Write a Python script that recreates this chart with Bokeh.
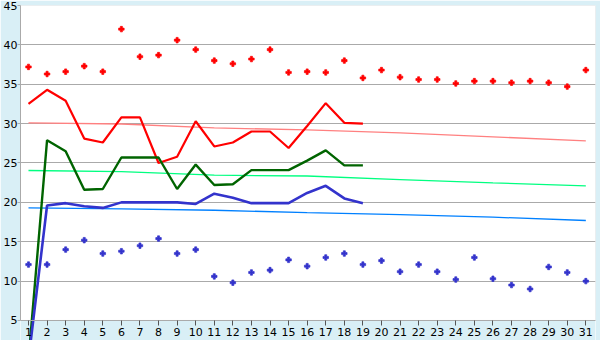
from bokeh.plotting import figure
from bokeh.models import Range1d, FixedTicker, BoxAnnotation
from bokeh.embed import file_html
from bokeh.resources import INLINE

# ---- data ----
days = list(range(1, 32))
line_days = list(range(1, 20))
red_dots = [37.2, 36.3, 36.6, 37.3, 36.6, 42.0, 38.5, 38.7, 40.6, 39.4, 38.0, 37.6, 38.2, 39.4, 36.5, 36.6,
            36.5, 38.0, 35.8, 36.8, 35.9, 35.6, 35.6, 35.1, 35.4, 35.4, 35.2, 35.4, 35.2, 34.7, 36.8]
blue_dots = [12.1, 12.1, 14.0, 15.2, 13.5, 13.8, 14.5, 15.4, 13.5, 14.0, 10.6, 9.8, 11.1, 11.4, 12.7, 11.9,
             13.0, 13.5, 12.1, 12.6, 11.2, 12.1, 11.2, 10.2, 13.0, 10.3, 9.5, 9.0, 11.8, 11.1, 10.0]
red_line = [32.5, 34.3, 32.9, 28.1, 27.6, 30.8, 30.8, 25.0, 25.8, 30.3, 27.1, 27.6, 29.0, 29.0, 26.9, 29.7,
            32.6, 30.1, 30.0]
green_line = [0.0, 27.9, 26.5, 21.6, 21.7, 25.7, 25.7, 25.7, 21.7, 24.8, 22.2, 22.3, 24.1, 24.1, 24.1, 25.3,
              26.6, 24.7, 24.7]
blue_line = [0.0, 19.6, 19.9, 19.5, 19.3, 20.0, 20.0, 20.0, 20.0, 19.8, 21.1, 20.6, 19.9, 19.9, 19.9, 21.2,
             22.1, 20.5, 19.9]
trend_days = [1, 6, 11, 16, 21, 26, 31]
trend_red = [30.1, 29.95, 29.46, 29.2, 28.83, 28.32, 27.82]
trend_green = [24.05, 23.9, 23.45, 23.35, 22.9, 22.48, 22.1]
trend_blue = [19.3, 19.18, 19.0, 18.7, 18.45, 18.12, 17.7]
y_ticks = [5, 10, 15, 20, 25, 30, 35, 40, 45]

LB = "#d9eff6"
GRID = "#aaaaaa"
FONT = "DejaVu Sans"

p = figure(width=600, height=340, output_backend="svg", toolbar_location=None,
           x_range=Range1d(0.57, 31.52), y_range=Range1d(2.46, 45),
           min_border_left=20, min_border_right=5, min_border_top=5, min_border_bottom=0,
           background_fill_color="white", border_fill_color=LB)
p.outline_line_color = None

# light band below the axis line
p.add_layout(BoxAnnotation(top=5, fill_color=LB, fill_alpha=1.0, line_color=None, level="underlay"))
# plot-area border (above the axis line only)
p.add_layout(BoxAnnotation(bottom=5, fill_alpha=0.0, line_color=GRID, line_width=1, level="underlay"))

p.xgrid.visible = False
p.ygrid.ticker = FixedTicker(ticks=y_ticks)
p.ygrid.grid_line_color = GRID

xa = p.xaxis[0]
xa.fixed_location = 5
xa.ticker = FixedTicker(ticks=days)
xa.axis_line_color = GRID
xa.major_tick_line_color = "#555555"
xa.major_tick_out = 5
xa.major_tick_in = 0
xa.minor_tick_line_color = None
xa.major_label_standoff = 3
xa.major_label_text_font = FONT
xa.major_label_text_font_size = "11px"
xa.major_label_text_color = "black"

ya = p.yaxis[0]
ya.ticker = FixedTicker(ticks=y_ticks)
ya.bounds = (5, 45)
ya.axis_line_color = GRID
ya.major_tick_line_color = GRID
ya.major_tick_out = 3
ya.major_tick_in = 0
ya.minor_tick_line_color = None
ya.major_label_standoff = 0
ya.major_label_text_font = FONT
ya.major_label_text_font_size = "11px"
ya.major_label_text_color = "black"

# trend lines
p.line(trend_days, trend_red, line_color="#ff8080", line_width=1.3)
p.line(trend_days, trend_green, line_color="#00ff80", line_width=1.3)
p.line(trend_days, trend_blue, line_color="#0080ff", line_width=1.3)

# main lines
p.line(line_days, red_line, line_color="#ff0000", line_width=2.2)
p.line(line_days, green_line, line_color="#006400", line_width=2.4)
p.line(line_days, blue_line, line_color="#3333cc", line_width=2.6)

# markers
p.scatter(days, red_dots, marker="plus", size=5.5, fill_color="#ff0000", line_color="#ff0000", line_width=0.7)
p.scatter(days, blue_dots, marker="plus", size=5.5, fill_color="#3333cc", line_color="#3333cc", line_width=0.7)

open("out.html", "w").write(file_html(p, INLINE))
